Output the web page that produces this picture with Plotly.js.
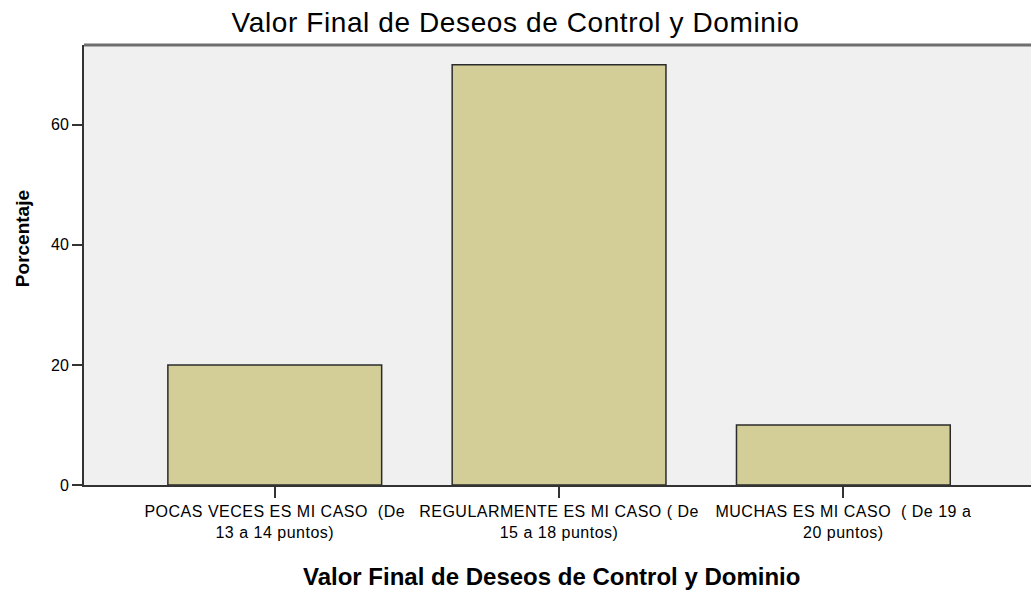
<!DOCTYPE html>
<html><head><meta charset="utf-8">
<script src="https://cdn.plot.ly/plotly-3.0.1.min.js"></script>
<style>
html,body{margin:0;padding:0;background:#fff;}
#chart{width:1031px;height:597px;}
.gtitle{letter-spacing:0.6px;}
.xtick text{letter-spacing:0.5px;}
</style>
</head><body><div id="chart"></div>
<script>
var categories = [
  "POCAS VECES ES MI CASO  (De<br>13 a 14 puntos)",
  "REGULARMENTE ES MI CASO ( De<br>15 a 18 puntos)",
  "MUCHAS ES MI CASO  ( De 19 a<br>20 puntos)"
];
var percentages = [20, 70, 10];
var yTicks = [0, 20, 40, 60];
var chartTitle = 'Valor Final de Deseos de Control y Dominio';
var xTitle = 'Valor Final de Deseos de Control y Dominio';
var yTitle = 'Porcentaje';

var trace = {
  type: 'bar',
  x: [0, 1, 2],
  y: percentages,
  width: 0.752,
  marker: {color: '#d3ce97', line: {color: '#2b2b2b', width: 1.5}},
  hoverinfo: 'none'
};

var layout = {
  width: 1031, height: 597,
  margin: {l: 84, r: 0, t: 45, b: 112, pad: 0},
  paper_bgcolor: '#ffffff',
  plot_bgcolor: '#f0f0f0',
  showlegend: false,
  title: {text: chartTitle,
    font: {family: 'Liberation Sans, Arial', size: 28, color: '#000'},
    x: 0.5, xref: 'container', xanchor: 'center', y: 0.963, yref: 'container', yanchor: 'middle'},
  xaxis: {
    range: [-0.671, 2.66],
    tickmode: 'array', tickvals: [0, 1, 2], ticktext: categories,
    ticks: 'outside', ticklen: 11, tickwidth: 2, tickcolor: '#333',
    showline: true, linecolor: '#333', linewidth: 2,
    showgrid: false, zeroline: false,
    tickfont: {family: 'Liberation Sans, Arial', size: 16, color: '#000'}
  },
  yaxis: {
    range: [0, 73.3],
    tickmode: 'array', tickvals: yTicks,
    ticks: 'outside', ticklen: 10, tickwidth: 2, tickcolor: '#333',
    showline: true, linecolor: '#333', linewidth: 2,
    showgrid: false, zeroline: false,
    tickfont: {family: 'Liberation Sans, Arial', size: 16, color: '#000'}
  },
  annotations: [
    {text: '<b>' + xTitle + '</b>', xref: 'paper', yref: 'paper', x: 0.494, y: -0.209,
     xanchor: 'center', yanchor: 'middle', showarrow: false,
     font: {family: 'Liberation Sans, Arial', size: 24, color: '#000'}},
    {text: '<b>' + yTitle + '</b>', xref: 'paper', yref: 'paper', x: -0.0655, y: 0.561,
     xanchor: 'center', yanchor: 'middle', showarrow: false, textangle: -90,
     font: {family: 'Liberation Sans, Arial', size: 19, color: '#000'}}
  ],
  shapes: [
    {type: 'line', xref: 'paper', yref: 'paper', x0: 0, x1: 1, y0: 1, y1: 1,
     line: {color: '#6e6e6e', width: 3}}
  ]
};

Plotly.newPlot('chart', [trace], layout, {displayModeBar: false, staticPlot: true});
</script>
</body></html>
